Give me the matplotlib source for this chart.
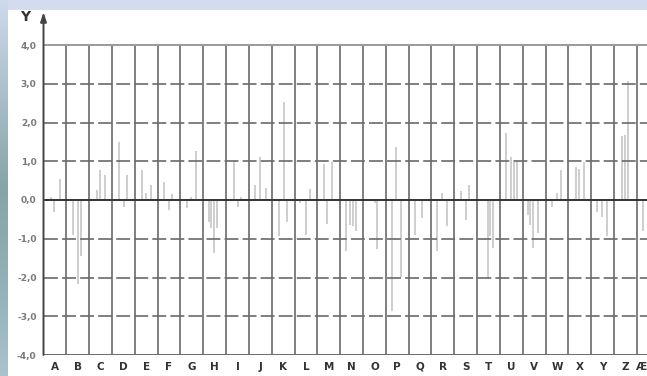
import numpy as np
import matplotlib.pyplot as plt
from matplotlib.colors import LinearSegmentedColormap
from matplotlib.patches import Rectangle

# sample positions (in letter cells) and values
xs = [0.31, 0.47, 0.72, 1.28, 1.52, 1.63, 2.33, 2.47, 2.69, 3.30, 3.52, 3.67,
      4.33, 4.49, 4.69, 5.27, 5.51, 5.65, 6.31, 6.48, 6.67, 7.26, 7.36, 7.49,
      7.61, 8.34, 8.51, 8.67, 9.26, 9.47, 9.74, 10.32, 10.54, 10.67, 11.26,
      11.49, 11.69, 12.29, 12.42, 12.66, 13.24, 13.41, 13.56, 13.71, 14.51,
      14.63, 15.26, 15.46, 15.67, 16.26, 16.59, 17.23, 17.45, 17.70, 18.28,
      18.51, 18.66, 19.46, 19.57, 19.71, 20.27, 20.49, 20.62, 20.76, 21.25,
      21.32, 21.46, 21.68, 22.27, 22.49, 22.66, 23.33, 23.48, 23.69, 24.24,
      24.46, 24.68, 25.34, 25.48, 25.63, 26.26]
vals = [0.09, -0.30, 0.53, -0.91, -2.18, -1.45, 0.26, 0.77, 0.64, 1.50, -0.17, 0.64,
        0.77, 0.17, 0.38, 0.47, -0.26, 0.15, -0.21, 0.09, 1.26, -0.56, -0.73, -1.37,
        -0.73, 1.00, -0.17, 0.09, 0.38, 1.11, 0.30, -0.94, 2.54, -0.56, -0.09,
        -0.91, 0.28, 0.94, -0.62, 0.97, -1.32, -0.64, -0.68, -0.79, -0.09,
        -1.26, -2.86, 1.38, -1.99, -0.91, -0.47, -1.32, 0.17, -0.68, 0.23,
        -0.51, 0.40, -2.05, -0.94, -1.24, 1.73, 1.11, 0.98, 1.00, -0.38,
        -0.64, -1.24, -0.85, -0.17, 0.17, 0.77, 0.85, 0.79, 0.97, -0.30,
        -0.43, -0.94, 1.65, 1.68, 3.08, -0.81]

letters = list("ABCDEFGHIJKLMNOPQRSTUVWXYZ")
extra_letter = "Æ"
yticks = [4, 3, 2, 1, 0, -1, -2, -3, -4]
ylabels = ["4,0", "3,0", "2,0", "1,0", "0,0", "-1,0", "-2,0", "-3,0", "-4,0"]

W, H = 647, 376
fig = plt.figure(figsize=(W / 100, H / 100), dpi=100, facecolor="#d3dcee")

# left strip of the page background
strip = LinearSegmentedColormap.from_list(
    "strip", ["#cdd9ec", "#aabfc8", "#86a5a8", "#92b0b5", "#a9c3cc"])
bg = fig.add_axes([0, 0, 8 / W, 1])
bg.imshow(np.linspace(0, 1, 200).reshape(-1, 1), aspect="auto", cmap=strip)
bg.axis("off")

fig.patches.append(Rectangle((8 / W, 0), 1, (H - 10) / H, transform=fig.transFigure,
                             facecolor="white", edgecolor="none", zorder=-1))

x0 = 43.5
cell = 22.82
xmax = (W - x0) / cell
ax = fig.add_axes([x0 / W, (H - 355) / H, (W - x0) / W, (355 - 14) / H])
ax.set_facecolor("none")
ax.set_xlim(0, xmax)
ax.set_ylim(-4, 4.8)
for s in ax.spines.values():
    s.set_visible(False)

# bars
ax.vlines(xs, 0, vals, color="#c6c6c6", lw=1.2, zorder=1)

# grid
ax.vlines(np.arange(1, 27), -4, 4, color="#6a6a6a", lw=1.2, zorder=2)
lw = 1.2
ax.hlines([3, 2, 1, -1, -2, -3], 0, xmax, color="#6a6a6a", lw=lw,
          linestyles=[(0, (10 / lw, 3 / lw))], zorder=2)
ax.hlines(4, 0, xmax, color="#9a9a9a", lw=1.4, zorder=2)
ax.hlines(-4, 0, xmax, color="#6a6a6a", lw=1.4, zorder=2)
ax.hlines(0, 0, xmax, color="#333333", lw=1.4, zorder=3)

# y axis with arrow
ax.annotate("", xy=(0, 4.85), xytext=(0, -4.0),
            arrowprops=dict(arrowstyle="-|>,head_length=0.55,head_width=0.18",
                            color="#444444", lw=1.4, shrinkA=0, shrinkB=0),
            annotation_clip=False, zorder=4)

ax.set_yticks(yticks)
ax.set_yticklabels(ylabels)
ax.set_xticks(np.arange(len(letters)) + 0.5)
ax.set_xticklabels(letters)
ax.tick_params(axis="y", length=0, pad=5, labelsize=6.5, labelcolor="#7a7a7a")
ax.tick_params(axis="x", length=0, pad=5, labelsize=7.5, labelcolor="#333333")
for t in ax.get_yticklabels():
    t.set_fontweight("bold")
for t in ax.get_xticklabels():
    t.set_fontweight("bold")

# next letter, squeezed against the right edge
ax.annotate(extra_letter, xy=(xmax, -4), xytext=(0, -5), textcoords="offset points",
            ha="right", va="top", fontsize=7.5, fontweight="bold", color="#333333",
            annotation_clip=False)

fig.text(25 / W, 1 - 17 / H, "Y", ha="center", va="center", fontsize=10,
         fontweight="bold", color="#333333")

fig.savefig("out.png", dpi=100, facecolor=fig.get_facecolor())
